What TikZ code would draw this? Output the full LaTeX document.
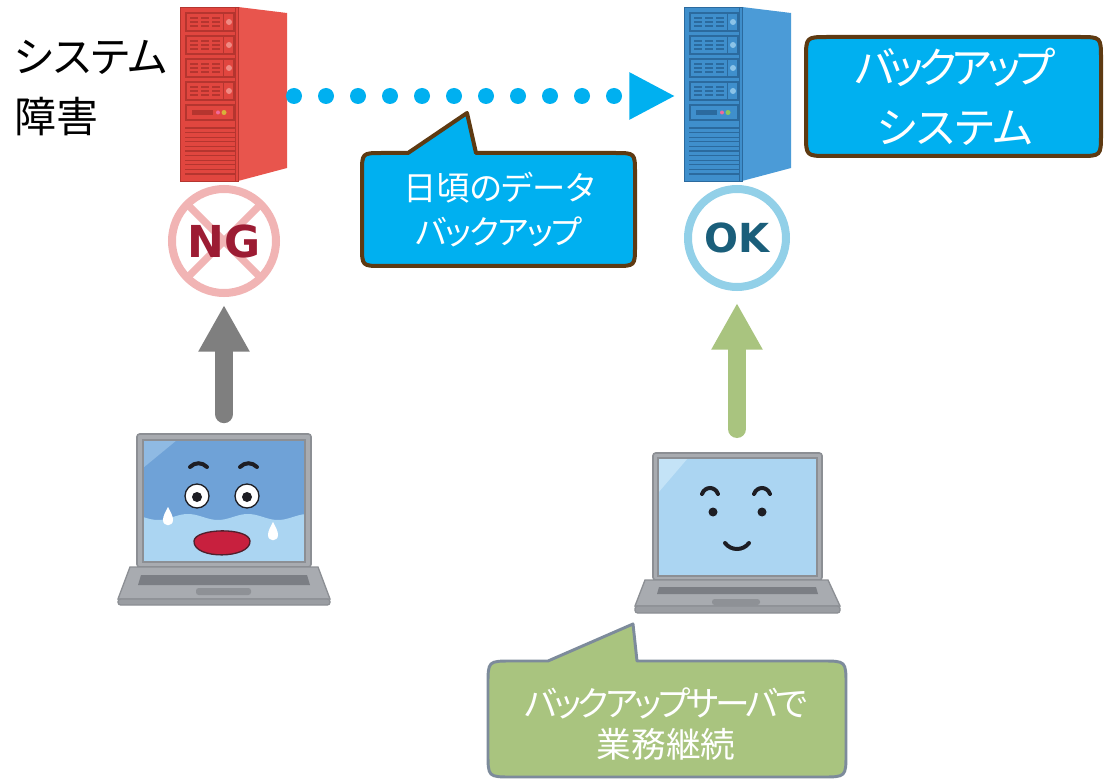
\documentclass[tikz,border=0pt]{standalone}
\usepackage{fontspec}
\usetikzlibrary{arrows.meta}
\newfontfamily\jpfont{Noto Sans CJK JP}[RawFeature={+palt}]
\newfontfamily\badgefont{DejaVu Sans}

\definecolor{callblue}{HTML}{00B0F0}
\definecolor{callbrown}{HTML}{5E3A12}
\definecolor{callgreen}{HTML}{A9C47F}
\definecolor{greenedge}{HTML}{7D8B9B}
\definecolor{arrowgray}{HTML}{7F7F7F}
\definecolor{ngring}{HTML}{F1B4B4}
\definecolor{ngtext}{HTML}{9C1C33}
\definecolor{okring}{HTML}{92D0E8}
\definecolor{oktext}{HTML}{1A5E7A}
\definecolor{redfront}{HTML}{E1463F}
\definecolor{redside}{HTML}{E8554D}
\definecolor{reddetail}{HTML}{B5352F}
\definecolor{redlamp}{HTML}{F08A83}
\definecolor{bluefront}{HTML}{3F8FCC}
\definecolor{blueside}{HTML}{4B9BD7}
\definecolor{bluedetail}{HTML}{2B6A9E}
\definecolor{bluelamp}{HTML}{8BC3E8}
\definecolor{lampA}{HTML}{F06A9A}
\definecolor{lampB}{HTML}{D8B13A}
\definecolor{lampC}{HTML}{8CC85A}
\definecolor{lapgray}{HTML}{A8ABB0}
\definecolor{lapdark}{HTML}{8C8F94}
\definecolor{lapkeys}{HTML}{7B7E84}
\definecolor{lappad}{HTML}{8E9196}
\definecolor{laplip}{HTML}{9A9DA2}
\definecolor{scrdark}{HTML}{6FA2D7}
\definecolor{scrlight}{HTML}{ABD5F2}
\definecolor{scrglareA}{HTML}{8FBAE3}
\definecolor{scrglareB}{HTML}{C4E3F7}
\definecolor{mouthred}{HTML}{C8203E}
\definecolor{facedark}{HTML}{1E1E24}

% tower server: #1 left x, #2 front, #3 side, #4 detail, #5 bay lamp, #6 second panel lamp
\newcommand{\towerserver}[6]{%
\begin{scope}[shift={(#1,0)}]
  \fill[#3] (58,7) -- (107,13) -- (107,168) -- (58,181) -- cycle;
  \fill[#2] (0,7) rectangle (58,181);
  \draw[#4, line width=0.6pt] (0,7) rectangle (58,181);
  \draw[#4, line width=0.5pt] (55,7) -- (55,181);
  \foreach \t in {13,36,59,82} {
    \draw[#4, line width=0.8pt] (6,\t) rectangle (54,\t+18);
    \draw[#4, line width=0.6pt] (43,\t) -- (43,\t+18);
    \foreach \gx in {10,21,32} {
      \foreach \gy in {5,9,13} {
        \draw[#4, line width=1pt] (\gx,\t+\gy) -- (\gx+8,\t+\gy);
      }
    }
    \fill[#5] (49,\t+9) circle[radius=3];
  }
  \draw[#4, line width=0.8pt] (6,105) rectangle (54,120);
  \fill[#4] (12,110) rectangle (33,115);
  \fill[lampA] (38,112.5) circle[radius=2];
  \fill[#6] (44,112.5) circle[radius=2.5];
  \foreach \v in {0,...,10} {
    \draw[#4, line width=0.8pt] (5,128+4.6*\v) -- (55,128+4.6*\v);
  }
\end{scope}}

\tikzset{
  hiddenbox/.style={draw=none, inner sep=0pt, outer sep=0pt},
  blackjp/.style={font=\jpfont\fontsize{31.5pt}{45pt}\selectfont, text=black, align=left, inner sep=0pt},
  whitejp/.style={text=white, align=center, inner sep=0pt},
  bluecall/.style={fill=callblue, draw=callbrown, line width=3pt, line join=round},
  greencall/.style={fill=callgreen, draw=greenedge, line width=2.2pt, line join=round},
  badge/.style={circle, line width=6pt, minimum size=75pt, inner sep=0pt},
  badgetext/.style={font=\badgefont\bfseries\fontsize{33pt}{33pt}\selectfont, inner sep=0pt},
  bigarrow/.style={line width=13.5pt, line cap=round, -{Triangle[width=36pt,length=35pt]}},
  dotline/.style={draw=callblue, line width=12pt, line cap=round, dash pattern=on 0pt off 24pt,
                  -{Triangle[width=33pt,length=34.5pt]}},
  facestroke/.style={draw=facedark, line width=3pt, line cap=round},
}

\begin{document}
\begin{tikzpicture}[x=0.75pt,y=-0.75pt]
\fill[white] (0,0) rectangle (1104,781);
\useasboundingbox (0,0) rectangle (1104,781);

% ---------- servers ----------
\towerserver{180}{redfront}{redside}{reddetail}{redlamp}{lampB}
\towerserver{684}{bluefront}{blueside}{bluedetail}{bluelamp}{lampC}
\node[hiddenbox, minimum width=81pt, minimum height=130pt] (srvA) at (234,96) {};
\node[hiddenbox, minimum width=82pt, minimum height=130pt] (srvB) at (738,96) {};

% daily backup transfer
\draw[dotline, shorten <=4.5pt, shorten >=6pt] (srvA.east) -- (srvB.west);

% ---------- labels ----------
\node[blackjp, anchor=west] (faillabel) at (14,88) {システム\\障害};

\draw[bluecall] (806,59) .. controls (806,37) .. (828,37) -- (1079,37)
  .. controls (1101,37) .. (1101,59) -- (1101,134) .. controls (1101,156) .. (1079,156)
  -- (828,156) .. controls (806,156) .. (806,134) -- cycle;
\node[whitejp, font=\jpfont\fontsize{32pt}{45pt}\selectfont] (backlabel) at (955,97)
  {{\addfontfeature{LetterSpace=-11}バックアップ}\\システム};

\draw[bluecall] (362,173) .. controls (362,153) .. (382,153) -- (408,153) -- (467,113)
  -- (476,153) -- (615,153) .. controls (635,153) .. (635,173) -- (635,246)
  .. controls (635,266) .. (615,266) -- (382,266) .. controls (362,266) .. (362,246) -- cycle;
\node[whitejp, font=\jpfont\fontsize{25pt}{33pt}\selectfont] (dailynote) at (499,210)
  {日頃のデータ\\{\addfontfeature{LetterSpace=-5}バックアップ}};

\draw[greencall] (488,685) .. controls (488,661) .. (512,661) -- (548,661) -- (633,624)
  -- (637,661) -- (822,661) .. controls (846,661) .. (846,685) -- (846,753)
  .. controls (846,777) .. (822,777) -- (512,777) .. controls (488,777) .. (488,753) -- cycle;
\node[whitejp, font=\jpfont\fontsize{26pt}{31pt}\selectfont] (contnote) at (666,724)
  {{\addfontfeature{LetterSpace=-10}バックアップサーバで}\\業務継続};

% ---------- status badges ----------
\node[badge, draw=ngring, minimum size=78pt,
  path picture={\draw[ngring, line width=5.5pt]
    (path picture bounding box.north west) -- (path picture bounding box.south east)
    (path picture bounding box.north east) -- (path picture bounding box.south west);}]
  (ng) at (224,241) {};
\node[badgetext, text=ngtext] (ngtxt) at (224,241) {NG};
\node[badge, draw=okring, minimum size=73.5pt] (ok) at (737,238) {};
\node[badgetext, text=oktext, font=\badgefont\bfseries\fontsize{30pt}{30pt}\selectfont] (oktxt) at (737,238) {OK};

% ---------- left laptop (in trouble) ----------
\draw[fill=lapgray, draw=lapdark, line width=1.2pt, rounded corners=2] (137,434) rectangle (311,567);
\fill[scrdark] (143,440) rectangle (305,562);
\fill[scrlight] (143,562) -- plot[domain=143:305, samples=60] (\x,{517+3*sin(6*(\x-143))}) -- (305,562) -- cycle;
\fill[scrglareA] (143,440) -- (177,440) -- (143,468) -- cycle;
\draw[lapdark, line width=0.8pt] (143,440) rectangle (305,562);
\draw[fill=lapgray, draw=lapdark, line width=1pt] (130,567) -- (318,567) -- (330,599) -- (118,599) -- cycle;
\draw[fill=laplip, draw=lapdark, line width=1pt, rounded corners=2] (118,599) rectangle (330,605);
\fill[lapkeys] (141,575) -- (307,575) -- (310,585) -- (138,585) -- cycle;
\fill[lappad, rounded corners=2] (196,588) rectangle (251,595);
% worried face
\draw[facestroke] (190,467) .. controls (195,462) and (202,462) .. (207,467);
\draw[facestroke] (240,467) .. controls (245,462) and (252,462) .. (257,467);
\draw[fill=white, draw=facedark, line width=1pt] (197,496) circle[radius=12];
\draw[fill=white, draw=facedark, line width=1pt] (247,496) circle[radius=12];
\fill[facedark] (197,497) circle[radius=5];
\fill[facedark] (247,497) circle[radius=5];
\fill[white] (168,507) .. controls (171,513) and (173,516) .. (173,520)
  .. controls (173,527) and (163,527) .. (163,520) .. controls (163,516) and (165,513) .. (168,507) -- cycle;
\fill[white] (273,522) .. controls (276,528) and (278,531) .. (278,535)
  .. controls (278,542) and (268,542) .. (268,535) .. controls (268,531) and (270,528) .. (273,522) -- cycle;
\draw[fill=mouthred, draw=facedark!70!mouthred, line width=1pt]
  (194,541) .. controls (195,528) and (249,527) .. (250,541)
  .. controls (251,559) and (193,560) .. (194,541) -- cycle;
\node[hiddenbox, minimum width=159pt, minimum height=128pt] (lapL) at (224,519.5) {};

% ---------- right laptop (running) ----------
\draw[fill=lapgray, draw=lapdark, line width=1.2pt, rounded corners=2] (653,453) rectangle (822,580);
\fill[scrlight] (658,458) rectangle (817,576);
\fill[scrglareB] (658,458) -- (688,458) -- (658,493) -- cycle;
\draw[lapdark, line width=0.8pt] (658,458) rectangle (817,576);
\draw[fill=lapgray, draw=lapdark, line width=1pt] (645,580) -- (828,580) -- (840,606) -- (635,606) -- cycle;
\draw[fill=laplip, draw=lapdark, line width=1pt, rounded corners=2] (635,606) rectangle (840,613);
\fill[lapkeys] (659,587) -- (816,587) -- (818,594) -- (657,594) -- cycle;
\fill[lappad, rounded corners=2] (712,599) rectangle (760,605);
% smiling face
\draw[facestroke] (702,494) .. controls (705,486) and (715,486) .. (718,494);
\draw[facestroke] (754,494) .. controls (757,486) and (767,486) .. (770,494);
\fill[facedark] (713,512) circle[radius=4.5];
\fill[facedark] (762,512) circle[radius=4.5];
\draw[facestroke] (725,543) .. controls (731,551) and (743,551) .. (749,543);
\node[hiddenbox, minimum width=154pt, minimum height=120pt] (lapR) at (737,533) {};

% ---------- access arrows ----------
\draw[bigarrow, arrowgray, shorten <=15pt, shorten >=6pt] (lapL.north) -- (ng.south);
\draw[bigarrow, callgreen, shorten <=18pt, shorten >=9pt] (lapR.north) -- (ok.south);
\end{tikzpicture}
\end{document}
